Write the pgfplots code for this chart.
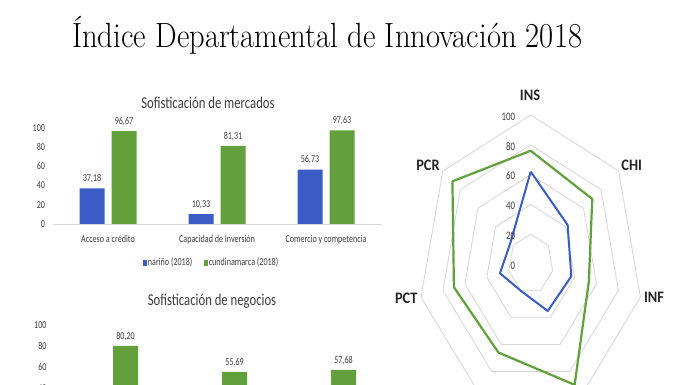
\documentclass[border=0pt]{standalone}
\usepackage{fontspec}
\usepackage{graphicx}
\usepackage{pgfplots}
\pgfplotsset{compat=1.18}
\newfontfamily\calfont[FakeStretch=0.77]{Carlito}
\newfontfamily\calbold[FakeStretch=0.9]{Carlito}
\definecolor{nblue}{RGB}{58,92,196}
\definecolor{cgreen}{RGB}{98,160,60}
\definecolor{gridg}{RGB}{214,214,214}
\definecolor{txt}{RGB}{60,60,60}
\pgfplotsset{
  sqlegend/.style={legend image code/.code={\fill[##1] (0pt,-3pt) rectangle (4pt,3pt);}},
  barbase/.style={
    scale only axis, anchor=south west,
    width=327pt,
    xmin=-0.5, xmax=2.5, ymin=0, ymax=100,
    axis x line=bottom, axis y line=left,
    x axis line style={gridg, line width=0.8pt, -},
    y axis line style={draw=none},
    major tick length=0pt,
    xtick={0,1,2}, ytick={0,20,...,100},
    /pgf/number format/assume math mode=true,
    tick label style={font=\calfont\fontsize{10.5}{12}\selectfont, text=txt},
    yticklabel style={xshift=-5pt},
    xticklabel style={anchor=base, yshift=-19pt},
    clip=false,
  },
  valnodes/.style={nodes near coords,
    point meta=y,
    every node near coord/.append style={font=\calfont\fontsize{10.5}{12}\selectfont, text=txt, anchor=base, yshift=6.6pt, xshift=#1,
      /pgf/number format/.cd, fixed, fixed zerofill, precision=2, use comma, assume math mode=true}},
}
\begin{document}
\begin{tikzpicture}
\useasboundingbox (0,0) rectangle (696pt,385pt);
\clip (0,0) rectangle (696pt,385pt);
\fill[white] (0,0) rectangle (696pt,385pt);

% main title
\node[anchor=base] at (327.2pt,337pt) {\scalebox{0.875}[1]{\fontsize{35}{40}\selectfont Índice Departamental de Innovación 2018}};

% ---------- bar chart 1 ----------
\node[anchor=base, text=txt] at (208pt,276.7pt) {\calfont\fontsize{16.5}{18}\selectfont Sofisticación de mercados};
\begin{axis}[barbase,
  at={(53.5pt,161pt)}, height=96pt,
  xticklabels={Acceso a crédito, Capacidad de Inversión, Comercio y competencia},
  legend style={at={(0.482,-0.403)}, anchor=center, draw=none, fill=none,
    legend columns=2, font=\calfont\fontsize{10.5}{12}\selectfont, text=txt,
    /tikz/every even column/.append style={column sep=10pt},
    nodes={inner sep=1.2pt}},
]
\addplot[ybar, bar width=25pt, bar shift=-16pt, fill=nblue, draw=none, valnodes=-16pt, sqlegend]
  coordinates {(0,37.18) (1,10.33) (2,56.73)};
\addplot[ybar, bar width=25pt, bar shift=16pt, fill=cgreen, draw=none, valnodes=16pt, sqlegend]
  coordinates {(0,96.67) (1,81.31) (2,97.63)};
\legend{nariño (2018), cundinamarca (2018)}
\end{axis}

% ---------- bar chart 2 (cropped at the bottom) ----------
\node[anchor=base, text=txt] at (212pt,79pt) {\calfont\fontsize{16.5}{18}\selectfont Sofisticación de negocios};
\begin{axis}[barbase,
  at={(55pt,-45.75pt)}, height=105.75pt,
  ytick={40,60,80,100},
  xticklabels={},
]
\addplot[ybar, bar width=25pt, bar shift=16pt, fill=cgreen, draw=none, valnodes=16pt]
  coordinates {(0,80.20) (1,55.69) (2,57.68)};
\end{axis}

% ---------- radar chart ----------
\begin{axis}[at={(373.2pt,-57.8pt)}, anchor=south west, scale only axis,
  width=315pt, height=357.6pt,
  xmin=-140, xmax=140, ymin=-120, ymax=120,
  axis lines=none, clip=false]
\addplot[gridg, line width=0.8pt, data cs=polar] coordinates {(90,20) (38.5714,20) (-12.8571,20) (-64.2857,20) (-115.7143,20) (-167.1429,20) (141.4286,20) (90,20)};
\addplot[gridg, line width=0.8pt, data cs=polar] coordinates {(90,40) (38.5714,40) (-12.8571,40) (-64.2857,40) (-115.7143,40) (-167.1429,40) (141.4286,40) (90,40)};
\addplot[gridg, line width=0.8pt, data cs=polar] coordinates {(90,60) (38.5714,60) (-12.8571,60) (-64.2857,60) (-115.7143,60) (-167.1429,60) (141.4286,60) (90,60)};
\addplot[gridg, line width=0.8pt, data cs=polar] coordinates {(90,80) (38.5714,80) (-12.8571,80) (-64.2857,80) (-115.7143,80) (-167.1429,80) (141.4286,80) (90,80)};
\addplot[gridg, line width=0.8pt, data cs=polar] coordinates {(90,100) (38.5714,100) (-12.8571,100) (-64.2857,100) (-115.7143,100) (-167.1429,100) (141.4286,100) (90,100)};
\addplot[cgreen, line width=2.2pt, line join=round, data cs=polar] coordinates {(90,76) (38.5714,70) (-12.8571,53) (-64.2857,90) (-115.7143,66) (-167.1429,70) (141.4286,89) (90,76)};
\addplot[nblue, line width=2pt, line join=round, data cs=polar] coordinates {(90,62) (38.5714,42) (-12.8571,37) (-64.2857,35) (-115.7143,20) (-167.1429,28) (141.4286,23) (90,62)};
\foreach \r in {0,20,40,60,80,100}{
  \edef\tmp{\noexpand\node[anchor=east, text=txt, font=\noexpand\calfont\noexpand\fontsize{11.5}{13}\noexpand\selectfont] at (axis cs:-10.7,\r-1) {\r};}
  \tmp
}
\node[text=black!85, font=\calbold\bfseries\fontsize{16}{18}\selectfont] at (axis cs:-0.6,113.4) {INS};
\node[text=black!85, font=\calbold\bfseries\fontsize{16}{18}\selectfont] at (axis cs:89.8,66.1) {CHI};
\node[text=black!85, font=\calbold\bfseries\fontsize{16}{18}\selectfont] at (axis cs:109.6,-22.5) {INF};
\node[text=black!85, font=\calbold\bfseries\fontsize{16}{18}\selectfont] at (axis cs:-110.6,-23.0) {PCT};
\node[text=black!85, font=\calbold\bfseries\fontsize{16}{18}\selectfont] at (axis cs:-91.3,66.1) {PCR};
\end{axis}
\end{tikzpicture}
\end{document}
